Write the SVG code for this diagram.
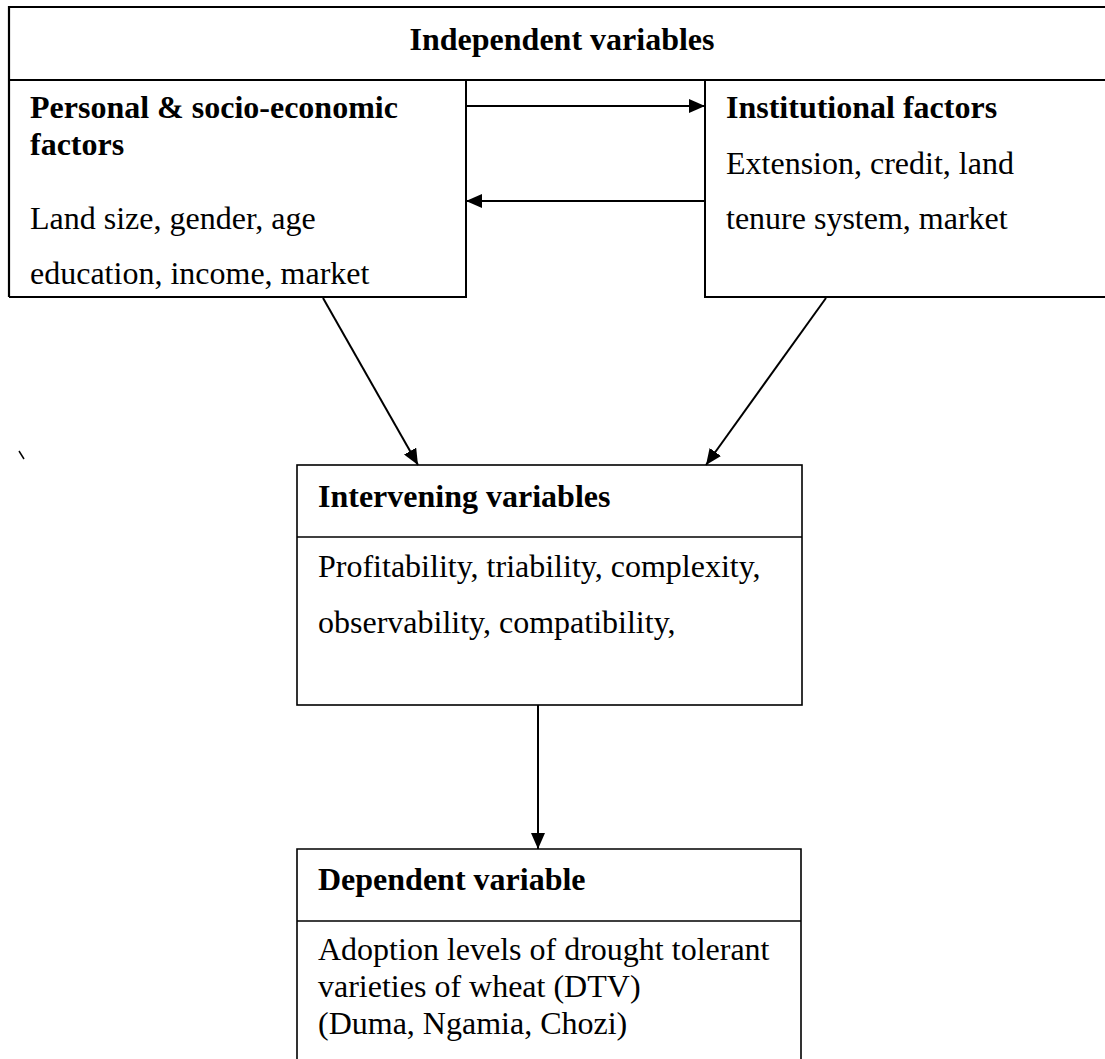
<svg xmlns="http://www.w3.org/2000/svg" width="1105" height="1059" viewBox="0 0 1105 1059">
<defs>
<style>
.box{fill:none;stroke:#000;stroke-width:1.6}
.t{font-family:"Liberation Serif","Times New Roman",serif;font-size:32px;fill:#000}
.b{font-weight:bold}
.c{stroke:#000;stroke-width:2;fill:none}
</style>
<marker id="ah" markerUnits="userSpaceOnUse" markerWidth="17" markerHeight="14" refX="16" refY="7" orient="auto">
<path d="M0,0 L16,7 L0,14 Z" fill="#000"/>
</marker>
</defs>
<rect width="1105" height="1059" fill="#fff"/>
<g id="independent">
<path class="box" d="M1106,7 H9 V297 M9,80 H1106" style="stroke-width:2.2"/>
<text class="t b" x="562" y="50" text-anchor="middle">Independent variables</text>
</g>
<g id="personal">
<path class="box" d="M9,297 H466 V80" style="stroke-width:2"/>
<text class="t b" x="30" y="118">Personal &amp; socio-economic</text>
<text class="t b" x="30" y="155">factors</text>
<text class="t" x="30" y="229">Land size, gender, age</text>
<text class="t" x="30" y="284">education, income, market</text>
</g>
<g id="institutional">
<path class="box" d="M705,80 V297 H1106" style="stroke-width:2"/>
<text class="t b" x="726" y="118">Institutional factors</text>
<text class="t" x="726" y="174">Extension, credit, land</text>
<text class="t" x="726" y="229">tenure system, market</text>
</g>
<g id="intervening">
<rect class="box" x="297" y="465" width="505" height="240"/>
<line class="box" x1="297" y1="537" x2="802" y2="537"/>
<text class="t b" x="318" y="507">Intervening variables</text>
<text class="t" x="318" y="577">Profitability, triability, complexity,</text>
<text class="t" x="318" y="633">observability, compatibility,</text>
</g>
<g id="dependent">
<path class="box" d="M297,1060 V849 H801 V1060 M297,921 H801"/>
<text class="t b" x="318" y="890">Dependent variable</text>
<text class="t" x="318" y="960">Adoption levels of drought tolerant</text>
<text class="t" x="318" y="997">varieties of wheat (DTV)</text>
<text class="t" x="318" y="1034">(Duma, Ngamia, Chozi)</text>
</g>
<g id="connectors">
<line class="c" x1="466" y1="106" x2="705" y2="106" marker-end="url(#ah)"/>
<line class="c" x1="705" y1="201" x2="466" y2="201" marker-end="url(#ah)"/>
<line class="c" x1="323" y1="298" x2="418" y2="465" marker-end="url(#ah)"/>
<line class="c" x1="826" y1="298" x2="706" y2="465" marker-end="url(#ah)"/>
<line class="c" x1="538" y1="705" x2="538" y2="849" marker-end="url(#ah)"/>
<line class="c" x1="19" y1="451" x2="24" y2="459" style="stroke-width:1.5"/>
</g>
</svg>
